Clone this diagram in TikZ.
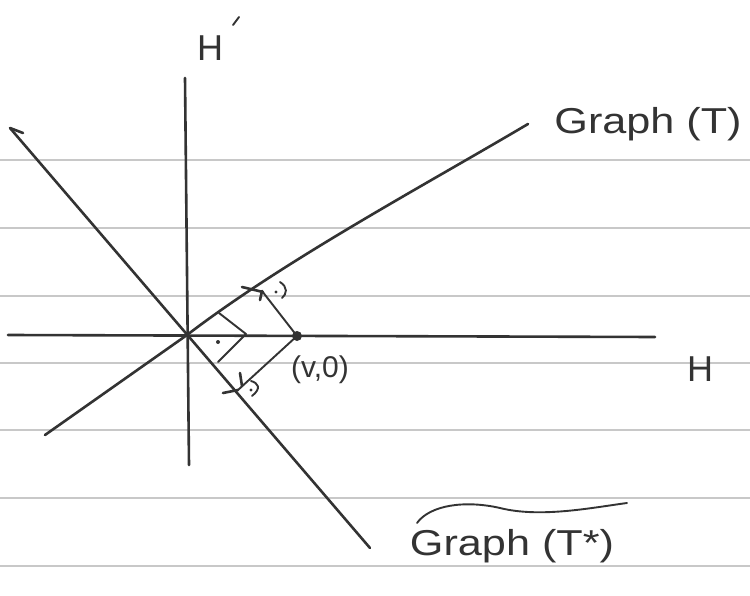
\documentclass[tikz,border=0pt]{standalone}
\usepackage{fontspec}
\setmainfont{Liberation Sans}
\begin{document}
\begin{tikzpicture}[x=1pt,y=-1pt,
  ink/.style={draw=inkc,line width=2.6pt,line cap=round,line join=round},
  thinink/.style={draw=inkc,line width=1.9pt,line cap=round,line join=round},
  rule/.style={draw=rulec,line width=1.2pt},
  lbl/.style={text=inkc,inner sep=0pt,font=\fontsize{36}{38}\selectfont}]
\definecolor{inkc}{HTML}{333333}
\definecolor{rulec}{HTML}{C8C8C8}
\useasboundingbox[fill=white] (0,0) rectangle (750,596);
% ruled paper
\foreach \yy in {160,228,296,363,430,498,566}
  \draw[rule] (0,\yy) -- (750,\yy);
% named points
\coordinate (O) at (187,335);
\coordinate (Hl) at (8,335);
\coordinate (Hr) at (655,337);
\coordinate (Vt) at (185,78);
\coordinate (Vb) at (189,465);
\coordinate (Ts) at (45,435);
\coordinate (Te) at (528,124);
\coordinate (Ss) at (10,128);
\coordinate (Se) at (370,548);
\coordinate (V) at (297,336);
\coordinate (FT) at (262,291);
\coordinate (FS) at (238,390);
% axes
\draw[ink] (Hl) -- (Hr);
\draw[ink] (Vt) -- (Vb);
% Graph(T)
\draw[ink] (Ts) -- (O) .. controls (285,260) and (425,185) .. (Te);
% Graph(T*)
\draw[ink] (Ss) -- (Se);
\draw[ink] (Ss) -- (23,133);
% perpendiculars
\draw[thinink] (V) -- (FT);
\draw[thinink] (V) -- (FS);
% point (v,0)
\fill[inkc] (V) circle (5);
% marks at foot on Graph(T)
\draw[ink] (242,287) -- (263,292);
\draw[ink] (FT) -- (260,300);
\draw[thinink] (280,282) .. controls (288,287) and (287,294) .. (282,298);
\fill[inkc] (276,292) circle (1.6);
% marks at foot on Graph(T*)
\draw[ink] (240,373) -- (242,386);
\draw[ink] (223,393) -- (FS);
\draw[thinink] (251,381) .. controls (258,383) and (262,388) .. (252,396);
\fill[inkc] (251,390) circle (1.6);
% angle mark at origin
\coordinate (A1) at (219,313);
\coordinate (A2) at (246,334);
\coordinate (A3) at (218,362);
\draw[thinink] (A1) -- (A2) -- (A3);
\fill[inkc] (218,342) circle (2);
% labels
\node[lbl] (hp) at (210,48) {H};
\draw[thinink] (233,25) -- (239,17);
\node[lbl] (h) at (700,369) {H};
\node[lbl,font=\fontsize{30}{32}\selectfont] (v0) at (320,370) {(v,0)};
\node[lbl,xscale=1.2] (gt) at (648,124) {Graph (T)};
\node[lbl,xscale=1.2] (gts) at (512,546) {Graph (T*)};
\draw[thinink] (417,523) .. controls (430,505) and (465,500) .. (500,508)
  .. controls (540,518) and (590,508) .. (627,503);
\end{tikzpicture}
\end{document}
